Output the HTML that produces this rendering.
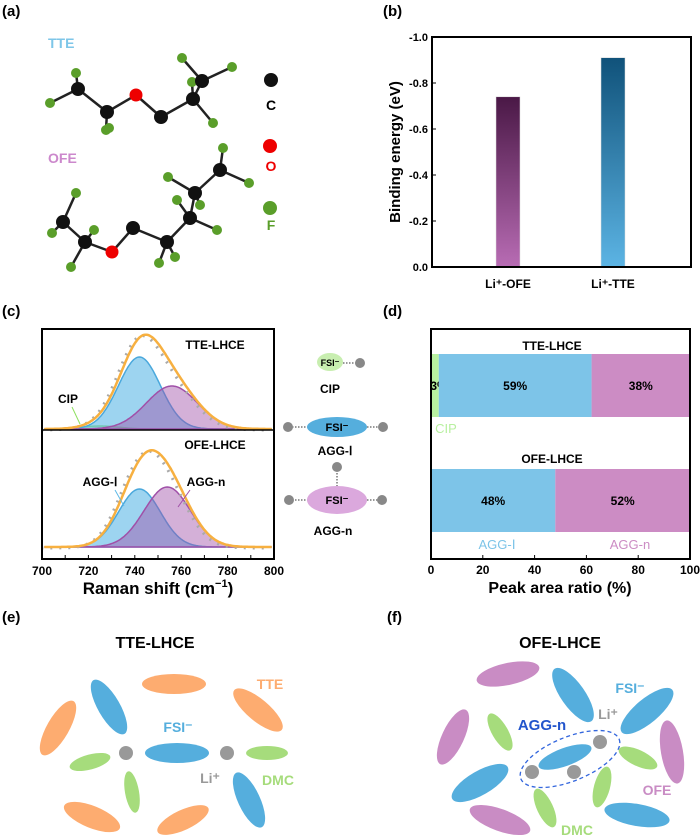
<!DOCTYPE html>
<html><head><meta charset="utf-8"><style>
body{margin:0;background:#fff;}
svg{display:block;font-family:"Liberation Sans",Arial,sans-serif;}
.b{font-weight:bold}
</style></head><body>
<svg id="fig" width="700" height="837" viewBox="0 0 700 837">
<g id="pa">
<text x="2" y="16" font-size="15" class="b">(a)</text>
<text x="48" y="48" font-size="14" fill="#7ec6e8" class="b">TTE</text>
<text x="48" y="163" font-size="14" fill="#cc88cc" class="b">OFE</text>
<g id="mol"></g>
<circle cx="271" cy="80" r="7" fill="#111"/>
<text x="271" y="110" font-size="14" class="b" text-anchor="middle">C</text>
<circle cx="270" cy="146" r="7" fill="#e00"/>
<text x="271" y="171" font-size="14" class="b" fill="#e00" text-anchor="middle">O</text>
<circle cx="270" cy="208" r="7" fill="#5a9e2a"/>
<text x="271" y="230" font-size="14" class="b" fill="#5a9e2a" text-anchor="middle">F</text>
</g>

<g id="pb">
<defs>
<linearGradient id="gp" x1="0" y1="0" x2="0" y2="1"><stop offset="0" stop-color="#4a1846"/><stop offset="1" stop-color="#b86cb4"/></linearGradient>
<linearGradient id="gb" x1="0" y1="0" x2="0" y2="1"><stop offset="0" stop-color="#10527a"/><stop offset="1" stop-color="#5cb4e4"/></linearGradient>
</defs>
<text x="383" y="16" font-size="15" class="b">(b)</text>
<text transform="translate(400,152) rotate(-90)" font-size="15" class="b" text-anchor="middle">Binding energy (eV)</text>
<g id="bbars"></g>
<rect x="432" y="37" width="259" height="230" fill="none" stroke="#000" stroke-width="2"/>
</g>

<g id="pc">
<text x="2" y="316" font-size="15" class="b">(c)</text>
<g id="raman"></g>
<rect x="42" y="329" width="232" height="230" fill="none" stroke="#000" stroke-width="2"/>
<line x1="42" y1="430" x2="274" y2="430" stroke="#000" stroke-width="1.5"/>
<text x="215" y="349" font-size="12" class="b" text-anchor="middle">TTE-LHCE</text>
<text x="215" y="449" font-size="12" class="b" text-anchor="middle">OFE-LHCE</text>
<text x="68" y="403" font-size="12" class="b" text-anchor="middle">CIP</text>
<line x1="72" y1="407" x2="80" y2="424" stroke="#8ee060" stroke-width="1"/>
<text x="100" y="486" font-size="12" class="b" text-anchor="middle">AGG-Ⅰ</text>
<line x1="115" y1="490" x2="124" y2="506" stroke="#5cb8e6" stroke-width="1"/>
<text x="206" y="486" font-size="12" class="b" text-anchor="middle">AGG-n</text>
<line x1="190" y1="490" x2="178" y2="507" stroke="#a050a8" stroke-width="1"/>
<text x="158" y="594" font-size="17" class="b" text-anchor="middle">Raman shift (cm<tspan dy="-7" font-size="11">−1</tspan><tspan dy="7">)</tspan></text>
</g>

<g id="pcs">
<ellipse cx="330" cy="362" rx="13" ry="9" fill="#c8eeb0"/>
<text x="330" y="366" font-size="9" class="b" text-anchor="middle">FSI⁻</text>
<line x1="343" y1="363" x2="356" y2="363" stroke="#333" stroke-dasharray="1.5,1.5"/>
<circle cx="360" cy="363" r="5" fill="#888"/>
<text x="330" y="393" font-size="12" class="b" text-anchor="middle">CIP</text>
<line x1="292" y1="427" x2="382" y2="427" stroke="#333" stroke-dasharray="1.5,1.5"/>
<ellipse cx="337" cy="427" rx="30" ry="10" fill="#55aedd"/>
<text x="337" y="431" font-size="11" class="b" text-anchor="middle">FSI⁻</text>
<circle cx="288" cy="427" r="5" fill="#888"/>
<circle cx="383" cy="427" r="5" fill="#888"/>
<text x="335" y="455" font-size="12" class="b" text-anchor="middle">AGG-Ⅰ</text>
<line x1="337" y1="470" x2="337" y2="486" stroke="#333" stroke-dasharray="1.5,1.5"/>
<line x1="292" y1="500" x2="382" y2="500" stroke="#333" stroke-dasharray="1.5,1.5"/>
<ellipse cx="337" cy="500" rx="30" ry="14" fill="#dba8dd"/>
<text x="337" y="504" font-size="11" class="b" text-anchor="middle">FSI⁻</text>
<circle cx="337" cy="467" r="5" fill="#888"/>
<circle cx="289" cy="500" r="5" fill="#888"/>
<circle cx="382" cy="500" r="5" fill="#888"/>
<text x="333" y="535" font-size="12" class="b" text-anchor="middle">AGG-n</text>
</g>

<g id="pd">
<text x="383" y="316" font-size="15" class="b">(d)</text>
<g id="dbars"></g>
<rect x="431" y="329" width="259" height="230" fill="none" stroke="#000" stroke-width="2"/>
<text x="552" y="350" font-size="12" class="b" text-anchor="middle">TTE-LHCE</text>
<text x="552" y="463" font-size="12" class="b" text-anchor="middle">OFE-LHCE</text>
<text x="446" y="433" font-size="13" fill="#b8f0a0" text-anchor="middle">CIP</text>
<text x="497" y="549" font-size="13" fill="#7dc4e8" text-anchor="middle">AGG-Ⅰ</text>
<text x="630" y="549" font-size="13" fill="#cc8cc4" text-anchor="middle">AGG-n</text>
<text x="560" y="593" font-size="16" class="b" text-anchor="middle">Peak area ratio (%)</text>
</g>

<g id="pe">
<text x="2" y="622" font-size="15" class="b">(e)</text>
<text x="155" y="648" font-size="16" class="b" text-anchor="middle">TTE-LHCE</text>
</g>
<g id="pf">
<text x="387" y="622" font-size="15" class="b">(f)</text>
<text x="560" y="648" font-size="16" class="b" text-anchor="middle">OFE-LHCE</text>
</g>
</svg>
<script>
const NS="http://www.w3.org/2000/svg";
function mk(tag,attrs,parent){const e=document.createElementNS(NS,tag);for(const k in attrs)e.setAttribute(k,attrs[k]);parent.appendChild(e);return e;}

// ---- panel b data ----
const bCategories=["Li⁺-OFE","Li⁺-TTE"];
const bValues=[-0.74,-0.91];
const bTicks=[0,-0.2,-0.4,-0.6,-0.8,-1.0];
const bTickLabels=["0.0","-0.2","-0.4","-0.6","-0.8","-1.0"];
const bFills=["url(#gp)","url(#gb)"];
const bG=document.getElementById("bbars");
const byS=v=>267-(v/-1.0)*230;
const bxS=i=>508+i*105;
bValues.forEach((v,i)=>{
  const r=mk("rect",{x:bxS(i)-12,y:byS(v),width:24,height:267-byS(v),fill:bFills[i],stroke:"#ddd","stroke-width":0.5},bG);
  
  
  const t=mk("text",{x:bxS(i),y:288,"font-size":12,"font-weight":"bold","text-anchor":"middle"},bG);
  t.textContent=bCategories[i];
  
  
});
bTicks.forEach((v,i)=>{
  const t=mk("text",{x:428,y:byS(v)+4,"font-size":11,"font-weight":"bold","text-anchor":"end"},bG);
  t.textContent=bTickLabels[i];
  
  
  const l=mk("line",{x1:432,x2:436,y1:byS(v),y2:byS(v),stroke:"#000"},bG);
  
  
});

// ---- panel c data (fitted peaks: center cm-1, amplitude, sigma) ----
const ramanTicks=[700,720,740,760,780,800];
const tteCenters=[725,742,756];
const tteAmps=[3,72,43];
const tteSigmas=[8,9,11];
const ofeCenters=[742,754];
const ofeAmps=[58,60];
const ofeSigmas=[9,10];
const cG=document.getElementById("raman");
const cxS=x=>42+(x-700)*2.32;
function gauss(x,c,a,s){return a*Math.exp(-((x-c)*(x-c))/(2*s*s));}
function drawSet(centers,amps,sigmas,base,colors,prefix){
  const xs=[];for(let x=701;x<=799;x+=0.5)xs.push(x);
  centers.forEach((c,k)=>{
    let d="M"+cxS(xs[0])+","+base;
    xs.forEach(x=>{d+=" L"+cxS(x).toFixed(1)+","+(base-gauss(x,c,amps[k],sigmas[k])).toFixed(1);});
    d+=" L"+cxS(xs[xs.length-1])+","+base+"Z";
    const p=mk("path",{d:d,fill:colors[k][0],"fill-opacity":colors[k][1],stroke:colors[k][2],"stroke-width":1.5},cG);
    
    
  });
  let d="";
  xs.forEach((x,i)=>{let s=0;centers.forEach((c,k)=>s+=gauss(x,c,amps[k],sigmas[k]));d+=(i?" L":"M")+cxS(x).toFixed(1)+","+(base-s).toFixed(1);});
  const dots=mk("path",{d:d,fill:"none",stroke:"#aaa","stroke-width":3,"stroke-dasharray":"2,7",transform:"translate(-3,1)"},cG);
  
  
  const p=mk("path",{d:d,fill:"none",stroke:"#f7b040","stroke-width":2.5},cG);
  
  
}
drawSet(tteCenters,tteAmps,tteSigmas,429,[["#b8f0a0",0.7,"#8ee060"],["#5cb8e6",0.6,"#4aa8dc"],["#a050a8",0.45,"#a050a8"]],"tte");
drawSet(ofeCenters,ofeAmps,ofeSigmas,547,[["#5cb8e6",0.6,"#4aa8dc"],["#a050a8",0.45,"#a050a8"]],"ofe");
ramanTicks.forEach(v=>{
  const t=mk("text",{x:cxS(v),y:575,"font-size":12,"font-weight":"bold","text-anchor":"middle"},cG);
  t.textContent=v;
  
  
});
for(let v=710;v<800;v+=10){
  const l=mk("line",{x1:cxS(v),x2:cxS(v),y1:559,y2:555,stroke:"#000"},cG);
  
  
}

// ---- panel d data ----
const dGroups=["TTE-LHCE","OFE-LHCE"];
const dCIP=[3,0];
const dAGG1=[59,48];
const dAGGn=[38,52];
const dTicks=[0,20,40,60,80,100];
const dG=document.getElementById("dbars");
const dxS=v=>431+v*2.59;
const dRows=[354,469];
const segColors=["#b8f0a0","#7dc4e8","#cc8cc4"];
dGroups.forEach((g,i)=>{
  const vals=[dCIP[i],dAGG1[i],dAGGn[i]];
  let acc=0;
  vals.forEach((v,k)=>{
    if(v<=0)return;
    const r=mk("rect",{x:dxS(acc),y:dRows[i],width:dxS(acc+v)-dxS(acc),height:63,fill:segColors[k]},dG);
    
    
    const t=mk("text",{x:k===0?dxS(acc)+8:(dxS(acc)+dxS(acc+v))/2,y:dRows[i]+36,"font-size":12,"font-weight":"bold","text-anchor":"middle"},dG);
    t.textContent=v+"%";
    
    
    acc+=v;
  });
});
dTicks.forEach(v=>{
  const t=mk("text",{x:dxS(v),y:574,"font-size":12,"font-weight":"bold","text-anchor":"middle"},dG);
  t.textContent=v;
  
  
  const l=mk("line",{x1:dxS(v),x2:dxS(v),y1:559,y2:555,stroke:"#000"},dG);
  
  
});

// ---- panel a molecules ----
const molG=document.getElementById("mol");
const tteC=[[78,89],[107,112],[161,117],[193,99],[202,81]];
const tteO=[[136,95]];
const tteF=[[76,73],[50,103],[106,130],[109,128],[182,58],[232,67],[192,82],[213,123]];
const tteBonds=[[[78,89],[76,73]],[[78,89],[50,103]],[[78,89],[107,112]],[[107,112],[136,95]],[[107,112],[106,130]],[[136,95],[161,117]],[[161,117],[193,99]],[[193,99],[202,81]],[[202,81],[182,58]],[[202,81],[232,67]],[[193,99],[192,82]],[[193,99],[213,123]]];
const ofeC=[[63,222],[85,242],[133,228],[167,242],[190,218],[195,193],[220,170]];
const ofeO=[[112,252]];
const ofeF=[[76,193],[52,233],[94,230],[71,267],[159,263],[175,257],[217,230],[177,200],[200,205],[168,177],[223,148],[249,183]];
const ofeBonds=[[[63,222],[76,193]],[[63,222],[52,233]],[[63,222],[85,242]],[[85,242],[94,230]],[[85,242],[71,267]],[[85,242],[112,252]],[[112,252],[133,228]],[[133,228],[167,242]],[[167,242],[159,263]],[[167,242],[175,257]],[[167,242],[190,218]],[[190,218],[217,230]],[[190,218],[177,200]],[[190,218],[195,193]],[[195,193],[200,205]],[[195,193],[168,177]],[[195,193],[220,170]],[[220,170],[223,148]],[[220,170],[249,183]]];
function drawMol(bonds,C,O,F,name){
  bonds.forEach(b=>{
    const l=mk("line",{x1:b[0][0],y1:b[0][1],x2:b[1][0],y2:b[1][1],stroke:"#222","stroke-width":2.5},molG);
    
    
  });
  F.forEach(p=>{const c=mk("circle",{cx:p[0],cy:p[1],r:5,fill:"#5a9e2a"},molG);});
  C.forEach(p=>{const c=mk("circle",{cx:p[0],cy:p[1],r:7,fill:"#111"},molG);});
  O.forEach(p=>{const c=mk("circle",{cx:p[0],cy:p[1],r:6.5,fill:"#e00"},molG);});
}
drawMol(tteBonds,tteC,tteO,tteF,"tte");
drawMol(ofeBonds,ofeC,ofeO,ofeF,"ofe");

// ---- panels e,f schematics ----
const OR="#fdac70",BL="#55aedd",GR="#a6dc7c",PU="#c98cc4",GY="#999";
const eShapes=[[174,684,32,10,0,OR],[109,707,31,11,60,BL],[58,728,31,11,-60,OR],[258,710,31,11,40,OR],[90,762,21,7.5,-15,GR],[177,753,32,10,0,BL],[267,753,21,7,0,GR],[132,792,21,7,80,GR],[249,800,30,11,65,BL],[92,817,30,11,22,OR],[183,820,28,10,-25,OR]];
const eDots=[[126,753],[227,753]];
const fShapes=[[508,674,32,11,-12,PU],[573,695,32,12,55,BL],[647,711,33,12,-40,BL],[453,737,30,11,-65,PU],[500,732,21,8,60,GR],[672,752,32,11,80,PU],[565,757,28,9,-20,BL],[638,758,21,8,25,GR],[480,783,32,12,-30,BL],[602,787,21,8,-75,GR],[545,808,21,8,65,GR],[500,820,32,11,20,PU],[637,815,33,11,10,BL]];
const fDots=[[600,742],[532,772],[574,772]];
function drawScheme(gid,shapes,dots){
  const g=document.getElementById(gid);
  shapes.forEach(s=>{
    const e=mk("ellipse",{cx:s[0],cy:s[1],rx:s[2],ry:s[3],fill:s[5],transform:`rotate(${s[4]} ${s[0]} ${s[1]})`},g);
    
    
  });
  dots.forEach(d=>{
    const c=mk("circle",{cx:d[0],cy:d[1],r:7,fill:GY},g);
    
    
  });
  return g;
}
const ge=drawScheme("pe",eShapes,eDots);
const gf=drawScheme("pf",fShapes,fDots);
const ring=mk("ellipse",{cx:570,cy:759,rx:53,ry:22,fill:"none",stroke:"#3366dd","stroke-width":1.3,"stroke-dasharray":"4,3",transform:"rotate(-22 570 759)"},gf);


function lab(g,x,y,txt,col,name,size){
  const t=mk("text",{x:x,y:y,"font-size":size||14,"font-weight":"bold",fill:col,"text-anchor":"middle"},g);
  t.textContent=txt;
  
  
}
lab(ge,270,689,"TTE",OR,"tte-text");
lab(ge,178,732,"FSI⁻",BL,"fsi-text");
lab(ge,210,783,"Li⁺",GY,"li-text");
lab(ge,278,785,"DMC",GR,"dmc-text");
lab(gf,630,693,"FSI⁻",BL,"fsi-text");
lab(gf,608,719,"Li⁺",GY,"li-text");
lab(gf,542,730,"AGG-n","#2255cc","agg-n-text",15);
lab(gf,657,795,"OFE",PU,"ofe-text");
lab(gf,577,835,"DMC",GR,"dmc-text");
</script>
</body></html>
